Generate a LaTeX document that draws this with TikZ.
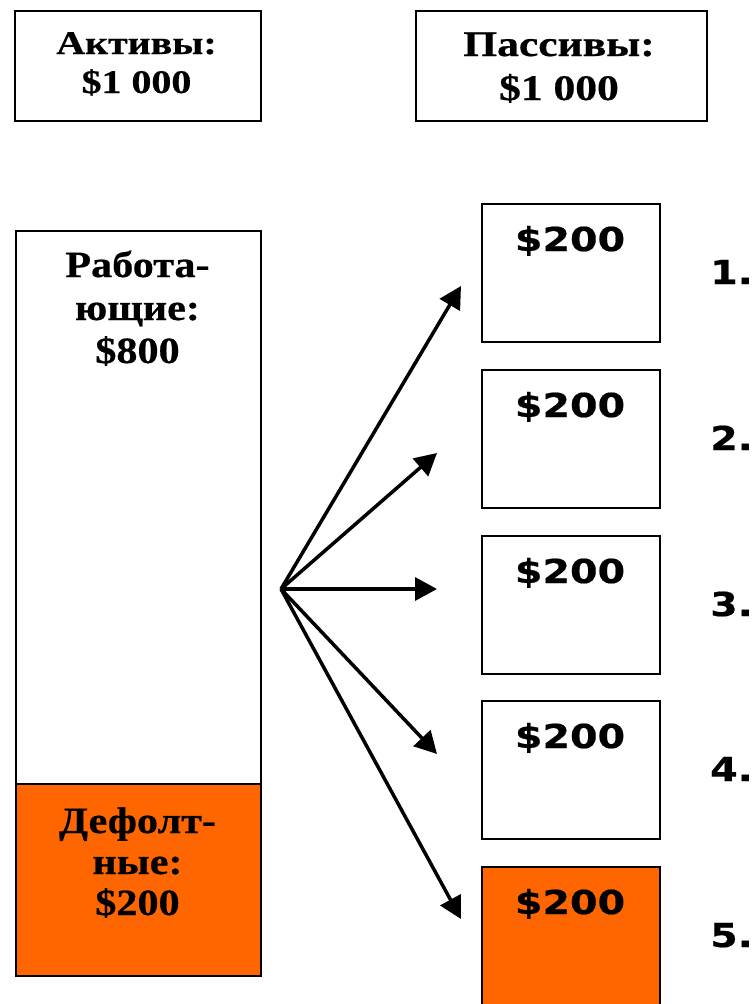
\documentclass[tikz,border=0pt]{standalone}
\usepackage{fontspec}
\usetikzlibrary{arrows.meta}
\newfontfamily\serifT[FakeStretch=1.21,FakeBold=0.6]{Liberation Serif Bold}
\newfontfamily\serifL[FakeStretch=1.14,FakeBold=0.6]{Liberation Serif Bold}
\newfontfamily\sansb[FakeStretch=1.2,FakeBold=0.5]{DejaVu Sans Bold}
\definecolor{deforange}{HTML}{FF6600}
\tikzset{
  box/.style={draw=black, line width=2pt, inner sep=0pt, anchor=north west},
  acttext/.style={font=\serifT\fontsize{33}{39}\selectfont, inner sep=0pt, anchor=base},
  pastext/.style={font=\serifT\fontsize{36}{44}\selectfont, inner sep=0pt, anchor=base},
  coltext/.style={font=\serifL\fontsize{37}{43}\selectfont, inner sep=0pt, anchor=base},
  sanstext/.style={font=\sansb\fontsize{33}{40}\selectfont, inner sep=0pt},
  fan/.style={line width=3.5pt, -{Triangle[length=22pt,width=23pt]}}
}
\begin{document}
\begin{tikzpicture}[x=1pt,y=-1pt]
\useasboundingbox (0,0) rectangle (752,1004);
% top boxes
\node[box, minimum width=246pt, minimum height=110pt] (act) at (14,10) {};
\node[box, minimum width=291pt, minimum height=110pt] (pas) at (415,10) {};
\node[acttext] (act1) at (136.5,54) {Активы:};
\node[acttext] (act2) at (136.5,93) {\$1 000};
\node[pastext] (pas1) at (559,56) {Пассивы:};
\node[pastext] (pas2) at (559,100) {\$1 000};
% left column
\node[box, minimum width=245pt, minimum height=553pt] (work) at (15,230) {};
\node[box, fill=deforange, minimum width=245pt, minimum height=192pt] (def) at (15,783) {};
\node[coltext] (work1) at (137.5,277) {Работа-};
\node[coltext] (work2) at (137.5,320) {ющие:};
\node[coltext] (work3) at (137.5,363) {\$800};
\node[coltext] (def1) at (137.5,833) {Дефолт-};
\node[coltext] (def2) at (137.5,874) {ные:};
\node[coltext] (def3) at (137.5,915) {\$200};
% right boxes
\foreach \i/\y/\c in {1/203/white,2/369/white,3/535/white,4/700/white,5/866/deforange}{
  \node[box, fill=\c, minimum width=178pt, minimum height=138pt] (b\i) at (481,\y) {};
  \node[sanstext, anchor=base] (v\i) at (570,\y+48) {\$200};
  \node[sanstext, anchor=base west] (n\i) at (710,\y+81) {\i.};
}
% fan
\coordinate (o) at (281,589);
\coordinate (t1) at (461,286);
\coordinate (t2) at (437,453);
\coordinate (t3) at (437,589);
\coordinate (t4) at (437,754);
\coordinate (t5) at (461,919);
\foreach \i in {1,...,5}{\draw[fan] (o) -- (t\i);}
\end{tikzpicture}
\end{document}
